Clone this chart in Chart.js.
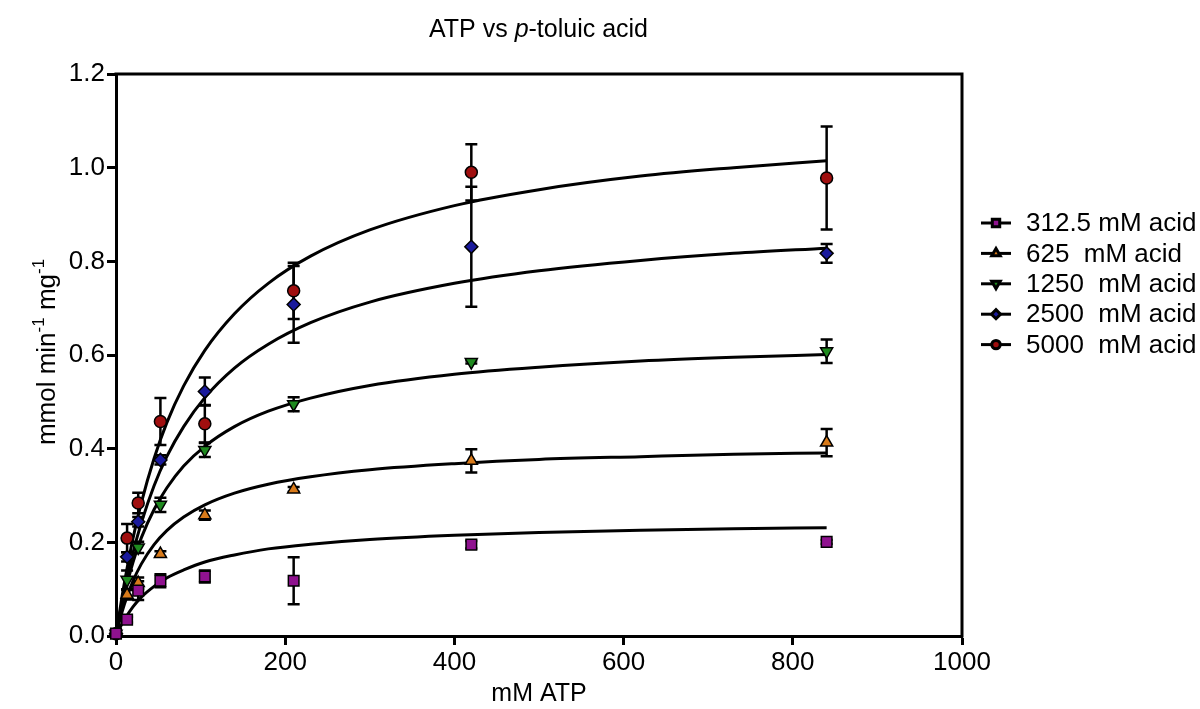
<!DOCTYPE html>
<html><head><meta charset="utf-8">
<script src="https://cdn.jsdelivr.net/npm/chart.js@4.4.0/dist/chart.umd.min.js"></script>
<style>html,body{margin:0;padding:0;background:#fff;}#wrap{position:relative;width:1200px;height:709px;}</style>
</head><body><div id="wrap"><canvas id="c" width="1200" height="709"></canvas></div>
<script>
const FONT = '"Liberation Sans", Arial, sans-serif';
const xTicks = [0, 200, 400, 600, 800, 1000];
const yTicks = [0, 0.2, 0.4, 0.6, 0.8, 1.0, 1.2];
const seriesLabels = ['312.5 mM acid', '625  mM acid', '1250  mM acid', '2500  mM acid', '5000  mM acid'];
const atp = [0, 13.1, 26.25, 52.5, 105, 210, 420, 840];
const rate312 = [0.005, 0.035, 0.097, 0.118, 0.127, 0.118, 0.195, 0.201];
const err312  = [0, 0.006, 0.02, 0.014, 0.013, 0.05, 0.008, 0.004];
const rate625 = [0.005, 0.088, 0.113, 0.175, 0.258, 0.313, 0.374, 0.413];
const err625  = [0, 0.01, 0.012, 0.006, 0.01, 0.005, 0.025, 0.029];
const rate1250 = [0.005, 0.12, 0.189, 0.28, 0.397, 0.495, 0.585, 0.608];
const err1250  = [0, 0.02, 0.012, 0.015, 0.015, 0.015, 0.003, 0.025];
const rate2500 = [0.005, 0.169, 0.244, 0.376, 0.522, 0.708, 0.831, 0.817];
const err2500  = [0, 0.01, 0.01, 0.01, 0.03, 0.082, 0.128, 0.02];
const rate5000 = [0.005, 0.209, 0.284, 0.458, 0.453, 0.737, 0.99, 0.978];
const err5000  = [0, 0.03, 0.022, 0.05, 0.04, 0.06, 0.06, 0.11];
// fitted curves
const fitX = [0, 5, 10, 20, 30, 45, 60, 80, 105, 140, 180, 230, 300, 400, 500, 620, 730, 840];
const fit312 = [0, 0.019, 0.035, 0.062, 0.083, 0.106, 0.124, 0.141, 0.158, 0.173, 0.186, 0.196, 0.206, 0.215, 0.221, 0.226, 0.229, 0.231];
const fit625 = [0, 0.037, 0.068, 0.117, 0.154, 0.195, 0.225, 0.254, 0.280, 0.305, 0.324, 0.340, 0.355, 0.368, 0.377, 0.383, 0.388, 0.391];
const fit1250 = [0, 0.048, 0.089, 0.157, 0.210, 0.270, 0.316, 0.363, 0.405, 0.447, 0.480, 0.508, 0.535, 0.559, 0.574, 0.587, 0.595, 0.601];
const fit2500 = [0, 0.052, 0.098, 0.177, 0.242, 0.321, 0.383, 0.447, 0.509, 0.572, 0.623, 0.669, 0.713, 0.753, 0.780, 0.802, 0.817, 0.828];
const fit5000 = [0, 0.060, 0.114, 0.208, 0.285, 0.379, 0.455, 0.534, 0.610, 0.688, 0.753, 0.811, 0.867, 0.919, 0.953, 0.982, 1.000, 1.015];

const styles = [
  {color: '#8f128f', style: 'rect', rot: 0, r: 7.5},
  {color: '#d87a1a', style: 'triangle', rot: 0, r: 7},
  {color: '#1f8a1f', style: 'triangle', rot: 180, r: 7},
  {color: '#1a1a9c', style: 'rectRot', rot: 0, r: 6.5},
  {color: '#a00f0f', style: 'circle', rot: 0, r: 6}
];
const rates = [rate312, rate625, rate1250, rate2500, rate5000];
const errs = [err312, err625, err1250, err2500, err5000];
const fits = [fit312, fit625, fit1250, fit2500, fit5000];

const datasets = [];
rates.forEach((r, i) => {
  datasets.push({
    type: 'scatter', label: seriesLabels[i], order: 0, clip: false,
    data: atp.map((x, j) => ({x: x, y: r[j]})), errors: errs[i],
    pointStyle: styles[i].style, rotation: styles[i].rot, pointRadius: styles[i].r,
    backgroundColor: styles[i].color, borderColor: '#000', borderWidth: 1.5, showLine: false
  });
});
fits.forEach((f, i) => {
  datasets.push({
    type: 'line', label: 'fit' + i, order: 1, clip: false,
    data: fitX.map((x, j) => ({x: x, y: f[j]})),
    borderColor: '#000', borderWidth: 3, pointRadius: 0, fill: false,
    cubicInterpolationMode: 'monotone'
  });
});

const errorBars = {
  id: 'errorBars',
  beforeDatasetsDraw(chart) {
    const {ctx, scales: {x, y}} = chart;
    ctx.save(); ctx.strokeStyle = '#000'; ctx.lineWidth = 2.5;
    chart.data.datasets.forEach(ds => {
      if (!ds.errors) return;
      ds.data.forEach((p, j) => {
        const e = ds.errors[j]; if (!e) return;
        const px = x.getPixelForValue(p.x);
        const pt = y.getPixelForValue(p.y + e), pb = y.getPixelForValue(p.y - e);
        ctx.beginPath();
        ctx.moveTo(px, pt); ctx.lineTo(px, pb);
        ctx.moveTo(px - 6, pt); ctx.lineTo(px + 6, pt);
        ctx.moveTo(px - 6, pb); ctx.lineTo(px + 6, pb);
        ctx.stroke();
      });
    });
    ctx.restore();
  }
};

const decorations = {
  id: 'decorations',
  afterDraw(chart) {
    const ctx = chart.ctx, a = chart.chartArea;
    ctx.save();
    // frame top & right
    ctx.strokeStyle = '#000'; ctx.lineWidth = 3; ctx.lineCap = 'square';
    ctx.beginPath();
    ctx.moveTo(a.left, a.top); ctx.lineTo(a.right, a.top); ctx.lineTo(a.right, a.bottom);
    ctx.stroke();
    ctx.lineCap = 'butt';
    // title
    ctx.fillStyle = '#000'; ctx.textBaseline = 'alphabetic'; ctx.textAlign = 'left';
    const parts = [['ATP vs ', ''], ['p', 'italic '], ['-toluic acid', '']];
    let tw = 0;
    parts.forEach(p => { ctx.font = p[1] + '25px ' + FONT; tw += ctx.measureText(p[0]).width; });
    let tx = 538.5 - tw / 2;
    parts.forEach(p => { ctx.font = p[1] + '25px ' + FONT; ctx.fillText(p[0], tx, 37); tx += ctx.measureText(p[0]).width; });
    // x title
    ctx.font = '25px ' + FONT; ctx.textAlign = 'center';
    ctx.fillText('mM ATP', (a.left + a.right) / 2, 701);
    // y title
    ctx.save();
    ctx.translate(55, 352); ctx.rotate(-Math.PI / 2); ctx.textAlign = 'left';
    const yp = [['mmol min', 26, 0], ['-1', 17, -11], [' mg', 26, 0], ['-1', 17, -11]];
    let yw = 0;
    yp.forEach(p => { ctx.font = p[1] + 'px ' + FONT; yw += ctx.measureText(p[0]).width; });
    let yx = -yw / 2;
    yp.forEach(p => { ctx.font = p[1] + 'px ' + FONT; ctx.fillText(p[0], yx, p[2]); yx += ctx.measureText(p[0]).width; });
    ctx.restore();
    // legend
    seriesLabels.forEach((lab, i) => {
      const ly = 223 + i * 30.4;
      ctx.strokeStyle = '#000'; ctx.lineWidth = 3;
      ctx.beginPath(); ctx.moveTo(981, ly); ctx.lineTo(1011, ly); ctx.stroke();
      ctx.fillStyle = styles[i].color; ctx.strokeStyle = '#000';
      Chart.helpers.drawPoint(ctx, {pointStyle: styles[i].style, rotation: styles[i].rot, radius: styles[i].r * 0.7, borderWidth: 1.2}, 996, ly);
      ctx.fillStyle = '#000'; ctx.font = '26px ' + FONT; ctx.textAlign = 'left'; ctx.textBaseline = 'middle';
      ctx.fillText(lab, 1026, ly + 1);
    });
    ctx.restore();
  }
};

const tickFont = {family: FONT, size: 26};
new Chart(document.getElementById('c'), {
  data: {datasets: datasets},
  plugins: [errorBars, decorations],
  options: {
    responsive: false, animation: false, devicePixelRatio: 1,
    layout: {padding: {left: 0, top: 74, right: 238, bottom: 0}},
    plugins: {legend: {display: false}, title: {display: false}, tooltip: {enabled: false}},
    scales: {
      x: {
        type: 'linear', min: 0, max: 1000,
        afterBuildTicks: s => { s.ticks = xTicks.map(v => ({value: v})); },
        afterFit: s => { s.height = 73; },
        ticks: {font: tickFont, color: '#000', padding: 2, maxRotation: 0, autoSkip: false, callback: v => String(v)},
        grid: {display: true, drawOnChartArea: false, drawTicks: true, tickLength: 9, tickWidth: 3, tickColor: '#000'},
        border: {display: true, color: '#000', width: 3}
      },
      y: {
        type: 'linear', min: 0, max: 1.2,
        afterBuildTicks: s => { s.ticks = yTicks.map(v => ({value: v})); },
        afterFit: s => { s.width = 116; },
        ticks: {font: tickFont, color: '#000', padding: 2, autoSkip: false, callback: v => Number(v).toFixed(1)},
        grid: {display: true, drawOnChartArea: false, drawTicks: true, tickLength: 9, tickWidth: 3, tickColor: '#000'},
        border: {display: true, color: '#000', width: 3}
      }
    }
  }
});
</script></body></html>
